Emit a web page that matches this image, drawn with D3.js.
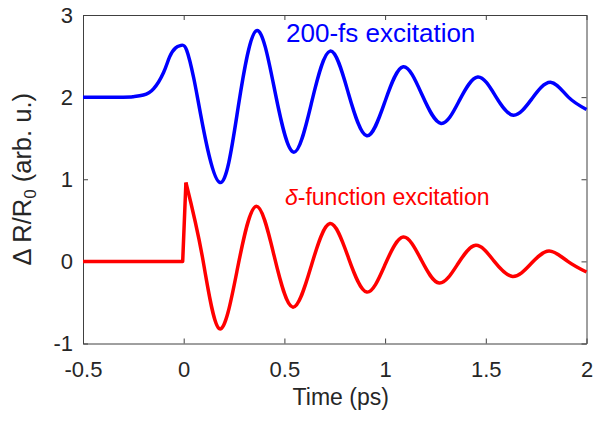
<!DOCTYPE html>
<html>
<head>
<meta charset="utf-8">
<script src="https://cdn.jsdelivr.net/npm/d3@7"></script>
<style>
    body { margin: 0; background: #fff; }
    text { font-family: "Liberation Sans", Arial, sans-serif; }
</style>
</head>
<body>
<svg id="chart" width="595" height="423"></svg>
<script>
// values
const xTicks = [-0.5, 0, 0.5, 1, 1.5, 2];
const yTicks = [-1, 0, 1, 2, 3];

// 200-fs excitation (offset by +2)
const blueT = [-0.5, -0.3, -0.25, -0.2, -0.15, -0.1, -0.07, -0.04, -0.013, 0.015, 0.05, 0.084, 0.18, 0.271, 0.362, 0.453, 0.545,
    0.636, 0.727, 0.818, 0.909, 1.0, 1.09, 1.184, 1.278, 1.369, 1.46, 1.549, 1.637, 1.729, 1.821, 1.91, 2.0];
const blueV = [2.0, 2.0, 2.005, 2.025, 2.1, 2.3, 2.49, 2.6, 2.63, 2.57, 2.23, 1.79, 0.96, 1.885, 2.81, 2.07, 1.33,
    1.945, 2.56, 2.045, 1.53, 1.95, 2.37, 2.025, 1.68, 1.96, 2.245, 2.01, 1.78, 1.98, 2.18, 2.0, 1.85];

// delta-function excitation
const redT = [-0.5, -0.005, 0.011, 0.092, 0.177, 0.268, 0.359, 0.45, 0.541, 0.634, 0.726, 0.818, 0.909,
    1.0, 1.09, 1.18, 1.269, 1.36, 1.45, 1.54, 1.633, 1.724, 1.814, 1.907, 2.0];
const redV = [0, 0, 0.96, 0.065, -0.82, -0.075, 0.67, 0.057, -0.557, -0.05, 0.46, 0.043, -0.374,
    -0.039, 0.296, 0.016, -0.264, -0.035, 0.195, 0.006, -0.183, -0.029, 0.125, 0.0, -0.13];

const svg = d3.select('#chart');
const margin = {left: 83, right: 8.5, top: 15, bottom: 79.5};
const W = 595 - margin.left - margin.right;
const H = 423 - margin.top - margin.bottom;

const x = d3.scaleLinear().domain([-0.5, 2]).range([0, W]);
const y = d3.scaleLinear().domain([-1, 3]).range([H, 0]);

const g = svg.append('g').attr('transform', `translate(${margin.left},${margin.top})`);

const axisColor = '#404040';
const textColor = '#262626';
const fmt = (d) => String(d);

// axes, ticks pointing inwards, box on
g.append('g').attr('transform', `translate(0,${H})`)
    .call(d3.axisBottom(x).tickValues(xTicks).tickFormat(fmt).tickSizeInner(-5).tickSizeOuter(0).tickPadding(18));
g.append('g')
    .call(d3.axisLeft(y).tickValues(yTicks).tickFormat(fmt).tickSizeInner(-5).tickSizeOuter(0).tickPadding(10));
g.append('g')
    .call(d3.axisTop(x).tickValues(xTicks).tickFormat('').tickSizeInner(-5).tickSizeOuter(0));
g.append('g').attr('transform', `translate(${W},0)`)
    .call(d3.axisRight(y).tickValues(yTicks).tickFormat('').tickSizeInner(-5).tickSizeOuter(0));

g.selectAll('.domain, .tick line').attr('stroke', axisColor).attr('stroke-width', 1);
g.selectAll('.tick text').attr('fill', textColor).attr('font-size', 22)
    .style('font-family', '"Liberation Sans", Arial, sans-serif');

// curves
const blueData = blueT.map((t, i) => ({t: t, v: blueV[i]}));
const redData = redT.map((t, i) => ({t: t, v: redV[i]}));

const smooth = d3.line().x((d) => x(d.t)).y((d) => y(d.v)).curve(d3.curveNatural);
const straight = d3.line().x((d) => x(d.t)).y((d) => y(d.v));

g.append('path').datum(blueData)
    .attr('d', smooth)
    .attr('fill', 'none').attr('stroke', '#0000ff').attr('stroke-width', 3.5)
    .attr('stroke-linejoin', 'round');

// flat part + jump drawn straight, oscillation smooth
g.append('path').datum(redData.slice(0, 3))
    .attr('d', straight)
    .attr('fill', 'none').attr('stroke', '#ff0000').attr('stroke-width', 3.5)
    .attr('stroke-linejoin', 'round');
g.append('path').datum(redData.slice(2))
    .attr('d', smooth)
    .attr('fill', 'none').attr('stroke', '#ff0000').attr('stroke-width', 3.5)
    .attr('stroke-linejoin', 'round');

// annotations
svg.append('text')
    .attr('x', 286).attr('y', 41.5)
    .attr('fill', '#0000ff').attr('font-size', 26)
    .text('200-fs excitation');

const red = svg.append('text')
    .attr('x', 285).attr('y', 205)
    .attr('fill', '#ff0000').attr('font-size', 23);
red.append('tspan').attr('font-style', 'italic').text('δ');
red.append('tspan').text('-function excitation');

// axis labels
svg.append('text')
    .attr('x', margin.left + W / 2 + 6).attr('y', 405)
    .attr('text-anchor', 'middle')
    .attr('fill', textColor).attr('font-size', 23)
    .text('Time (ps)');

const yl = svg.append('text')
    .attr('transform', `translate(31,${margin.top + H / 2}) rotate(-90)`)
    .attr('text-anchor', 'middle')
    .attr('fill', textColor).attr('font-size', 25.5);
yl.append('tspan').text('Δ R/R');
yl.append('tspan').attr('font-size', 17).attr('dy', 5).text('0');
yl.append('tspan').attr('dy', -5).text(' (arb. u.)');
</script>
</body>
</html>
